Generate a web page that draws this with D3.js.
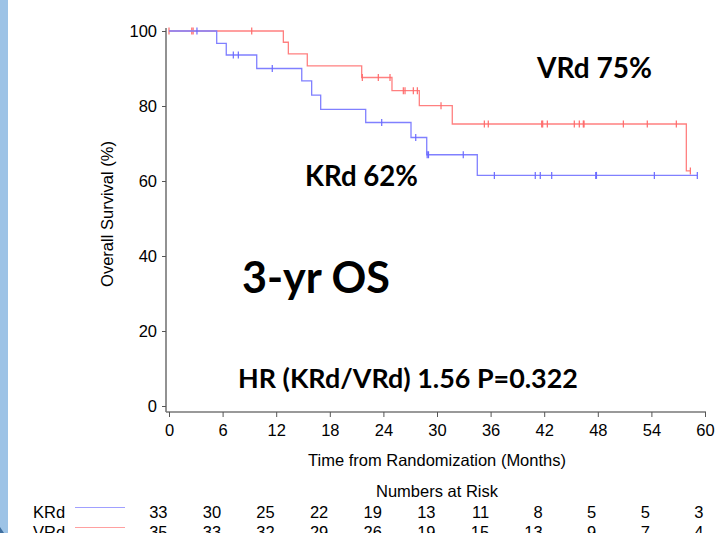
<!DOCTYPE html>
<html>
<head>
<meta charset="utf-8">
<script src="https://cdn.jsdelivr.net/npm/d3@7"></script>
<style>
  html, body { margin: 0; padding: 0; background: #fff; }
  svg { display: block; }
</style>
</head>
<body>
<svg id="chart" width="717" height="533"></svg>
<script>
// ---------------- DATA ----------------
const monthTicks = [0, 6, 12, 18, 24, 30, 36, 42, 48, 54, 60];
const survTicks = [0, 20, 40, 60, 80, 100];

// KRd (blue) step curve: event times (months) and survival (%) after each step
const krdTimes = [0, 5.34, 6.41, 9.82, 14.86, 15.97, 16.98, 22.02, 27.09, 28.85, 34.51];
const krdSurv  = [100, 96.7, 93.6, 90.0, 86.7, 82.9, 79.1, 75.6, 71.6, 67.0, 61.5];
const krdEnd = 59.14;
const krdCensor = [3.13, 7.2, 7.76, 11.56, 23.81, 27.62, 28.9, 29.05, 32.94, 36.42, 41.0, 41.56, 42.84, 47.77, 47.85, 54.33, 59.14];

// VRd (red) step curve
const vrdTimes = [0, 12.8, 13.36, 15.48, 21.57, 24.96, 28.02, 31.71, 57.91];
const vrdSurv  = [100, 97.0, 93.9, 90.7, 87.6, 84.1, 80.1, 75.2, 62.7];
const vrdEnd = 58.36;
const vrdCensor = [0, 2.55, 2.7, 9.26, 21.64, 23.43, 24.74, 26.23, 26.42, 27.35, 27.8, 30.45, 35.3, 35.74, 41.72, 41.83, 42.35, 45.37, 45.93, 46.38, 46.46, 50.86, 53.54, 56.79, 58.36];

// Numbers at risk
const riskGroups = ["KRd", "VRd"];
const krdRisk = [33, 30, 25, 22, 19, 13, 11, 8, 5, 5, 3];
const vrdRisk = [35, 33, 32, 29, 26, 19, 15, 13, 9, 7, 4];

// Annotations
const annVRd = "VRd 75%";
const annKRd = "KRd 62%";
const annOS = "3-yr OS";
const annHR = "HR (KRd/VRd) 1.56 P=0.322";

// ---------------- DRAW ----------------
const svg = d3.select("#chart");
const axisFont = "'Liberation Sans', Arial, sans-serif";
const boldFont = "Lato, 'Open Sans', sans-serif";
const blue = "#8080ff", red = "#ff8080";
const blueMark = "#6b6bff", redMark = "#ff6b6b";

// left decorative band
svg.append("rect").attr("x", 0).attr("y", 0).attr("width", 8).attr("height", 533).attr("fill", "#9dc3e6");
svg.append("path").attr("d", "M0,527L4,533L0,533Z").attr("fill", "#3f6f9f");

const x = d3.scaleLinear().domain([0, 60]).range([169, 705]);
const y = d3.scaleLinear().domain([0, 100]).range([406, 31]);
const axisX = 166, axisY = 412;
const axisColor = "#777";

// y axis
const gy = svg.append("g").attr("transform", `translate(${axisX},0)`)
  .call(d3.axisLeft(y).tickValues(survTicks).tickSize(4).tickPadding(5));
gy.select(".domain").attr("d", `M0,${y(100) - 3}V${axisY}`).attr("stroke", axisColor).attr("stroke-width", 1.6);
gy.selectAll(".tick line").attr("stroke", "#555");
gy.selectAll(".tick text").attr("font-family", axisFont).attr("font-size", 16.5).attr("fill", "#000");

// x axis
const gx = svg.append("g").attr("transform", `translate(0,${axisY})`)
  .call(d3.axisBottom(x).tickValues(monthTicks).tickSize(5).tickPadding(7));
gx.select(".domain").attr("d", `M${axisX},0H${x(60) + 1}`).attr("stroke", axisColor).attr("stroke-width", 1.6);
gx.selectAll(".tick line").attr("stroke", "#555");
gx.selectAll(".tick text").attr("font-family", axisFont).attr("font-size", 16.5).attr("fill", "#000");

// axis titles
svg.append("text").attr("transform", "translate(113,214) rotate(-90)")
  .attr("text-anchor", "middle").attr("font-family", axisFont).attr("font-size", 16.5)
  .text("Overall Survival (%)");
svg.append("text").attr("x", 437).attr("y", 466).attr("text-anchor", "middle")
  .attr("font-family", axisFont).attr("font-size", 16.5)
  .text("Time from Randomization (Months)");

// KM curves
function stepPoints(times, surv, end) {
  const pts = times.map((t, i) => [t, surv[i]]);
  pts.push([end, surv[surv.length - 1]]);
  return pts;
}
function survAt(times, surv, t) {
  let v = surv[0];
  for (let i = 0; i < times.length; i++) if (times[i] <= t) v = surv[i];
  return v;
}
const line = d3.line().x(d => x(d[0])).y(d => y(d[1])).curve(d3.curveStepAfter);

function drawCurve(times, surv, end, censor, color, markColor) {
  svg.append("path").datum(stepPoints(times, surv, end))
    .attr("d", line).attr("fill", "none").attr("stroke", color).attr("stroke-width", 1.3);
  svg.append("g").selectAll("line").data(censor).join("line")
    .attr("x1", d => x(d)).attr("x2", d => x(d))
    .attr("y1", d => y(survAt(times, surv, d)) - 3.5)
    .attr("y2", d => y(survAt(times, surv, d)) + 3.5)
    .attr("stroke", markColor).attr("stroke-width", 1.2);
}
drawCurve(vrdTimes, vrdSurv, vrdEnd, vrdCensor, red, redMark);
drawCurve(krdTimes, krdSurv, krdEnd, krdCensor, blue, blueMark);

// bold annotations, fitted to target widths
function boldText(txt, x0, yb, w, fs) {
  const t = svg.append("text").attr("x", x0).attr("y", yb)
    .attr("font-family", boldFont).attr("font-weight", 700).attr("font-size", fs).attr("fill", "#000").text(txt);
  const len = t.node().getComputedTextLength();
  if (len > 0) t.attr("font-size", fs * w / len);
  return t;
}
boldText(annVRd, 537, 78, 115, 28);
boldText(annKRd, 305, 186, 113, 28);
boldText(annOS, 242, 293, 148, 43);
boldText(annHR, 238, 388, 340, 27);

// numbers at risk
svg.append("text").attr("x", 437).attr("y", 497).attr("text-anchor", "middle")
  .attr("font-family", axisFont).attr("font-size", 16.5).text("Numbers at Risk");

const riskRows = [krdRisk, vrdRisk];
const riskColors = ["#a0a0ff", "#ffa0a0"];
riskGroups.forEach((g, r) => {
  const yb = 518 + r * 20;
  svg.append("text").attr("x", 33).attr("y", yb).attr("font-family", axisFont).attr("font-size", 16.5).text(g);
  svg.append("rect").attr("x", 75).attr("y", yb - 11).attr("width", 50).attr("height", 1)
    .attr("fill", riskColors[r]);
  svg.append("g").selectAll("text").data(riskRows[r]).join("text")
    .attr("x", (d, i) => x(monthTicks[i]) - 1.5).attr("y", yb)
    .attr("text-anchor", "end").attr("font-family", axisFont).attr("font-size", 16.5)
    .text(d => d);
});
</script>
</body>
</html>
